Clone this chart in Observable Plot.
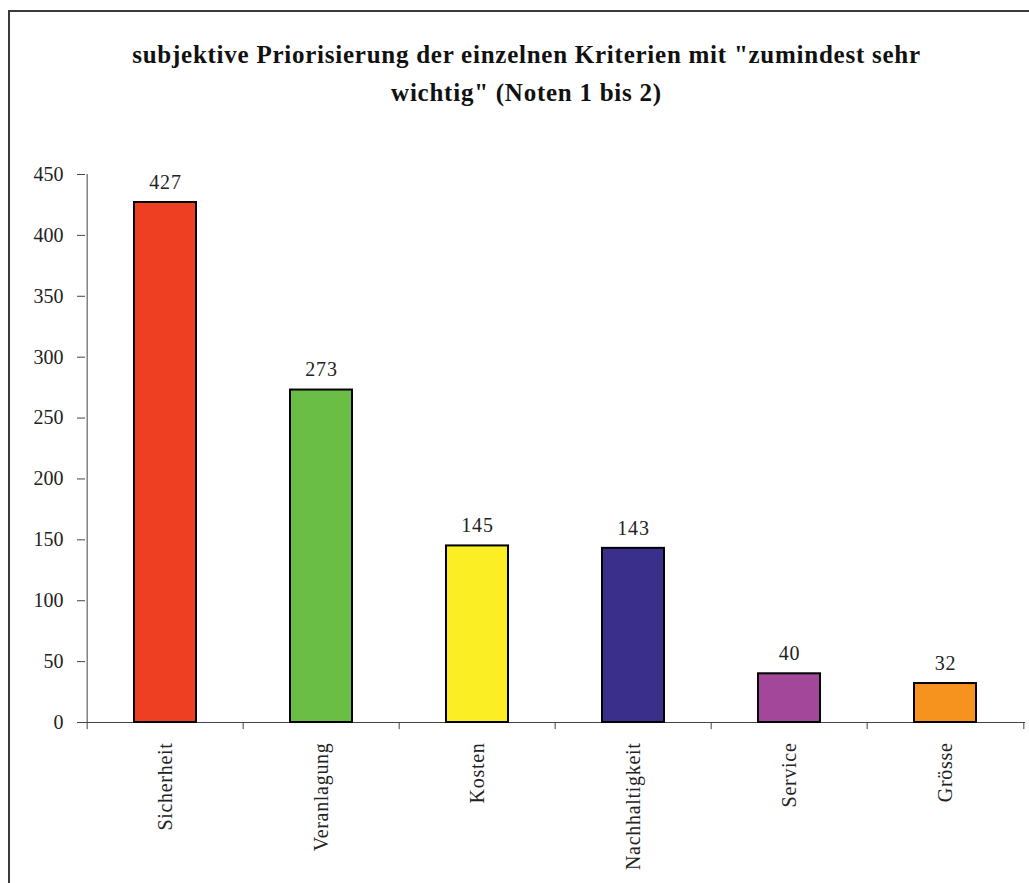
<!DOCTYPE html>
<html>
<head>
<meta charset="utf-8">
<script src="https://cdn.jsdelivr.net/npm/d3@7"></script>
<script src="https://cdn.jsdelivr.net/npm/@observablehq/plot@0.6"></script>
<style>
  html, body { margin: 0; padding: 0; background: #fff; }
  body { width: 1029px; height: 883px; position: relative; overflow: hidden; }
  #frame { position: absolute; left: 8px; top: 10px; width: 1040px; height: 900px;
           border-left: 2px solid #3a3a3a; border-top: 2px solid #3a3a3a; }
  #title { position: absolute; left: 0; top: 36px; width: 1053px; text-align: center;
           font-family: "Liberation Serif", "DejaVu Serif", serif; font-weight: bold;
           font-size: 25px; line-height: 38px; color: #111; letter-spacing: 0.75px; }
  #chart { position: absolute; left: 0; top: 130px; }
  .xlab text { letter-spacing: 0.7px; }
  .vlab text { letter-spacing: 0.8px; }
</style>
</head>
<body>
<div id="frame"></div>
<div id="title">subjektive Priorisierung der einzelnen Kriterien mit "zumindest sehr<br>wichtig" (Noten 1 bis 2)</div>
<div id="chart"></div>
<script>
const categories = ["Sicherheit", "Veranlagung", "Kosten", "Nachhaltigkeit", "Service", "Grösse"];
const values = [427, 273, 145, 143, 40, 32];
const colors = ["#EF3F23", "#6BBE45", "#FCEE24", "#3B2F8C", "#A2479A", "#F6921E"];
const yTicks = [0, 50, 100, 150, 200, 250, 300, 350, 400, 450];

const data = categories.map((c, i) => ({category: c, value: values[i], color: colors[i]}));

const W = 1029, H = 753, mL = 85, mR = 4, mT = 44, mB = 161;
const step = (W - mL - mR) / categories.length;

const font = "'Liberation Serif', 'DejaVu Serif', serif";

const chart = Plot.plot({
  width: W,
  height: H,
  marginLeft: mL,
  marginRight: mR,
  marginTop: mT,
  marginBottom: mB,
  style: {fontFamily: font, fontSize: "20px", color: "#222", background: "transparent"},
  x: {domain: categories, paddingInner: 0.6, paddingOuter: 0.3, label: null},
  y: {domain: [0, 450], ticks: yTicks, label: null},
  marks: [
    Plot.axisY({ticks: yTicks, tickSize: 8, tickPadding: 14, fontSize: 20, stroke: "#444", strokeOpacity: 1, label: null}),
    Plot.ruleY([0], {stroke: "#444", strokeWidth: 1}),
    Plot.ruleX([categories[0]], {x: d => d, y1: 0, y2: 450, dx: -step / 2, stroke: "#444"}),
    Plot.axisX({tickSize: 0, tickRotate: -90, tickPadding: 20, fontSize: 20, label: null, className: "xlab"}),
    Plot.ruleX(categories, {x: d => d, y1: 0, y2: -5.8, dx: -step / 2, stroke: "#444"}),
    Plot.ruleX([categories[categories.length - 1]], {x: d => d, y1: 0, y2: -5.8, dx: step / 2, stroke: "#444"}),
    Plot.barY(data, {x: "category", y: "value", fill: "color", stroke: "#000", strokeWidth: 2}),
    Plot.text(data, {x: "category", y: "value", text: d => String(d.value), dy: -20, fontSize: 20, fill: "#222", lineAnchor: "middle", className: "vlab"})
  ]
});
document.getElementById("chart").appendChild(chart);
</script>
</body>
</html>
